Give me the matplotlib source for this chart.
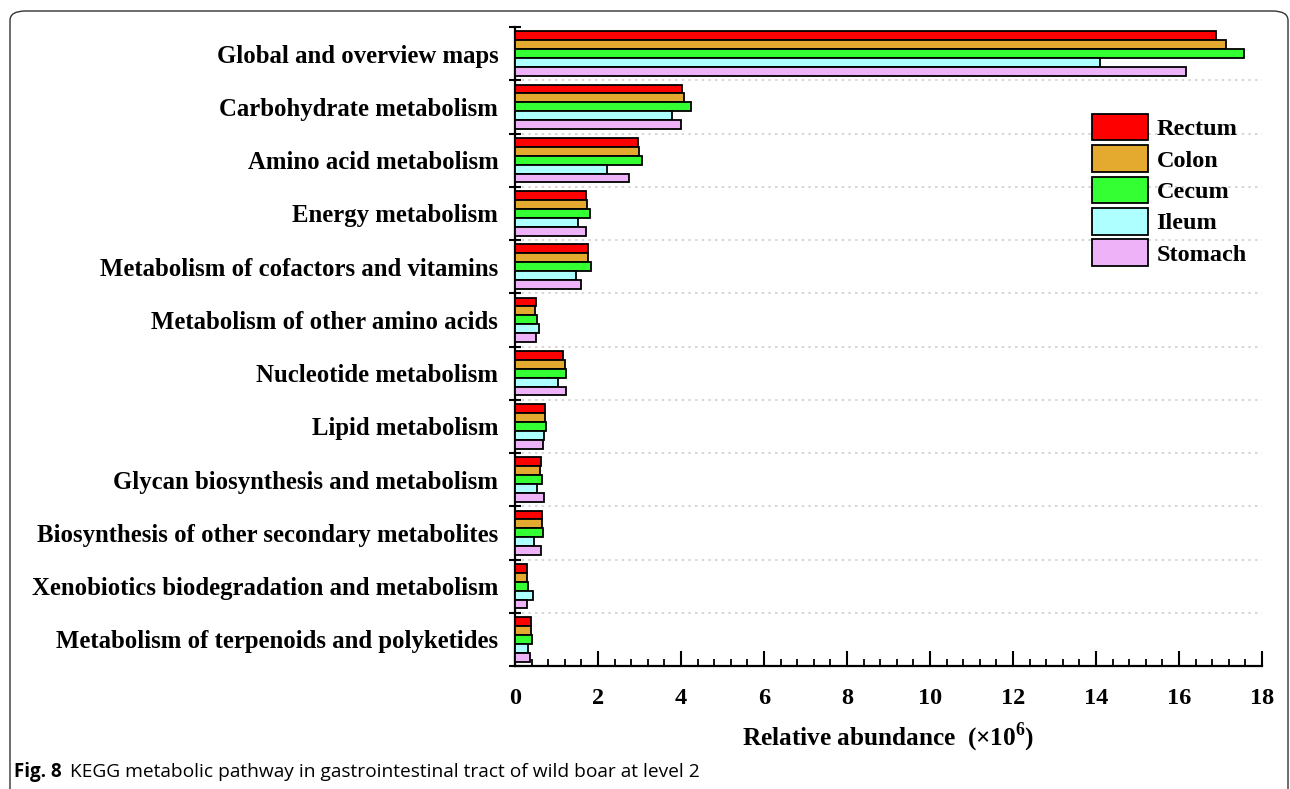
import numpy as np
import matplotlib
matplotlib.use("Agg")
import matplotlib.pyplot as plt
from matplotlib.patches import FancyBboxPatch, Patch
from matplotlib.ticker import MultipleLocator

plt.rcParams['font.family'] = ['Liberation Serif', 'DejaVu Serif']
plt.rcParams['mathtext.fontset'] = 'custom'
plt.rcParams['mathtext.rm'] = 'Liberation Serif:bold'
plt.rcParams['mathtext.bf'] = 'Liberation Serif:bold'

# KEGG level-2 pathways, top to bottom
pathways = [
    "Global and overview maps",
    "Carbohydrate metabolism",
    "Amino acid metabolism",
    "Energy metabolism",
    "Metabolism of cofactors and vitamins",
    "Metabolism of other amino acids",
    "Nucleotide metabolism",
    "Lipid metabolism",
    "Glycan biosynthesis and metabolism",
    "Biosynthesis of other secondary metabolites",
    "Xenobiotics biodegradation and metabolism",
    "Metabolism of terpenoids and polyketides",
]

sites = ["Rectum", "Colon", "Cecum", "Ileum", "Stomach"]
site_colors = ["#FF0000", "#E4A92F", "#33FF33", "#AEFFFF", "#EEB2F8"]

# relative abundance (x10^6)
rectum  = [16.90, 4.02, 2.96, 1.71, 1.76, 0.50, 1.16, 0.73, 0.62, 0.64, 0.30, 0.39]
colon   = [17.13, 4.08, 2.98, 1.73, 1.76, 0.49, 1.20, 0.72, 0.61, 0.66, 0.29, 0.39]
cecum   = [17.57, 4.23, 3.05, 1.80, 1.82, 0.52, 1.23, 0.75, 0.65, 0.67, 0.31, 0.40]
ileum   = [14.10, 3.78, 2.21, 1.52, 1.48, 0.59, 1.04, 0.69, 0.53, 0.45, 0.43, 0.31]
stomach = [16.17, 4.00, 2.75, 1.71, 1.60, 0.50, 1.24, 0.68, 0.70, 0.62, 0.28, 0.37]
series = [rectum, colon, cecum, ileum, stomach]

W, H = 1290, 789
fig = plt.figure(figsize=(W / 100, H / 100), dpi=100)
ax = fig.add_axes([515 / W, 1 - 666 / H, (1262 - 515) / W, (666 - 27) / H])

n = len(pathways)
centers = np.arange(n) + 0.5
bh = 0.168
for k, (vals, col, name) in enumerate(zip(series, site_colors, sites)):
    ax.barh(centers + (k - 2) * bh, vals, height=bh, color=col,
            edgecolor='black', linewidth=1.3, label=name, zorder=3)

ax.set_xlim(0, 18)
ax.set_ylim(n, 0)

for s in ['top', 'right']:
    ax.spines[s].set_visible(False)
for s in ['left', 'bottom']:
    ax.spines[s].set_linewidth(1.6)

# x axis: majors every 2, minors every 0.4, pointing up
ax.xaxis.set_major_locator(MultipleLocator(2))
ax.xaxis.set_minor_locator(MultipleLocator(0.4))
ax.tick_params(axis='x', which='major', direction='in', length=11, width=1.5,
               pad=16, labelsize=17.5)
ax.tick_params(axis='x', which='minor', direction='in', length=5, width=1.3)
for lab in ax.get_xticklabels():
    lab.set_fontweight('bold')

# y axis: ticks at group boundaries, labels at group centres
ax.set_yticks(np.arange(n + 1))
ax.set_yticklabels([''] * (n + 1))
ax.set_yticks(centers, minor=True)
ax.set_yticklabels(pathways, minor=True, fontsize=17.8, fontweight='bold')
ax.tick_params(axis='y', which='major', direction='inout', length=9, width=1.5)
ax.tick_params(axis='y', which='minor', length=0, pad=12)

for b in range(1, n):
    ax.axhline(b, color='#CFCFCF', linestyle=(0, (1.5, 2.5)), linewidth=1.2, zorder=1)

ax.set_xlabel(r'Relative abundance  (×10$^{6}$)', fontsize=18.2, fontweight='bold',
              labelpad=9)

handles = [Patch(facecolor=c, edgecolor='black', linewidth=1.3) for c in site_colors]
fig.legend(handles, sites, loc='upper left', bbox_to_anchor=(1092 / W, 1 - 114 / H),
           frameon=False, borderpad=0, borderaxespad=0,
           handlelength=2.3, handleheight=1.3, labelspacing=0.2,
           handletextpad=0.35, prop={'family': 'Liberation Serif', 'weight': 'bold', 'size': 17.5})

# caption and frame
fig.text(14 / W, 1 - 772 / H, "Fig. 8", fontsize=13.5, fontweight='bold',
         family='Open Sans', va='center', ha='left')
fig.text(70 / W, 1 - 772 / H, "KEGG metabolic pathway in gastrointestinal tract of wild boar at level 2",
         fontsize=13.8, family='Open Sans', va='center', ha='left')

frame = FancyBboxPatch((10 / W, -0.05), (1288 - 10) / W, 1 - 11 / H + 0.05,
                       boxstyle='round,pad=0,rounding_size=0.012',
                       transform=fig.transFigure, fill=False,
                       edgecolor='#333333', linewidth=1.0)
fig.patches.append(frame)

fig.savefig("out.png", dpi=100)
